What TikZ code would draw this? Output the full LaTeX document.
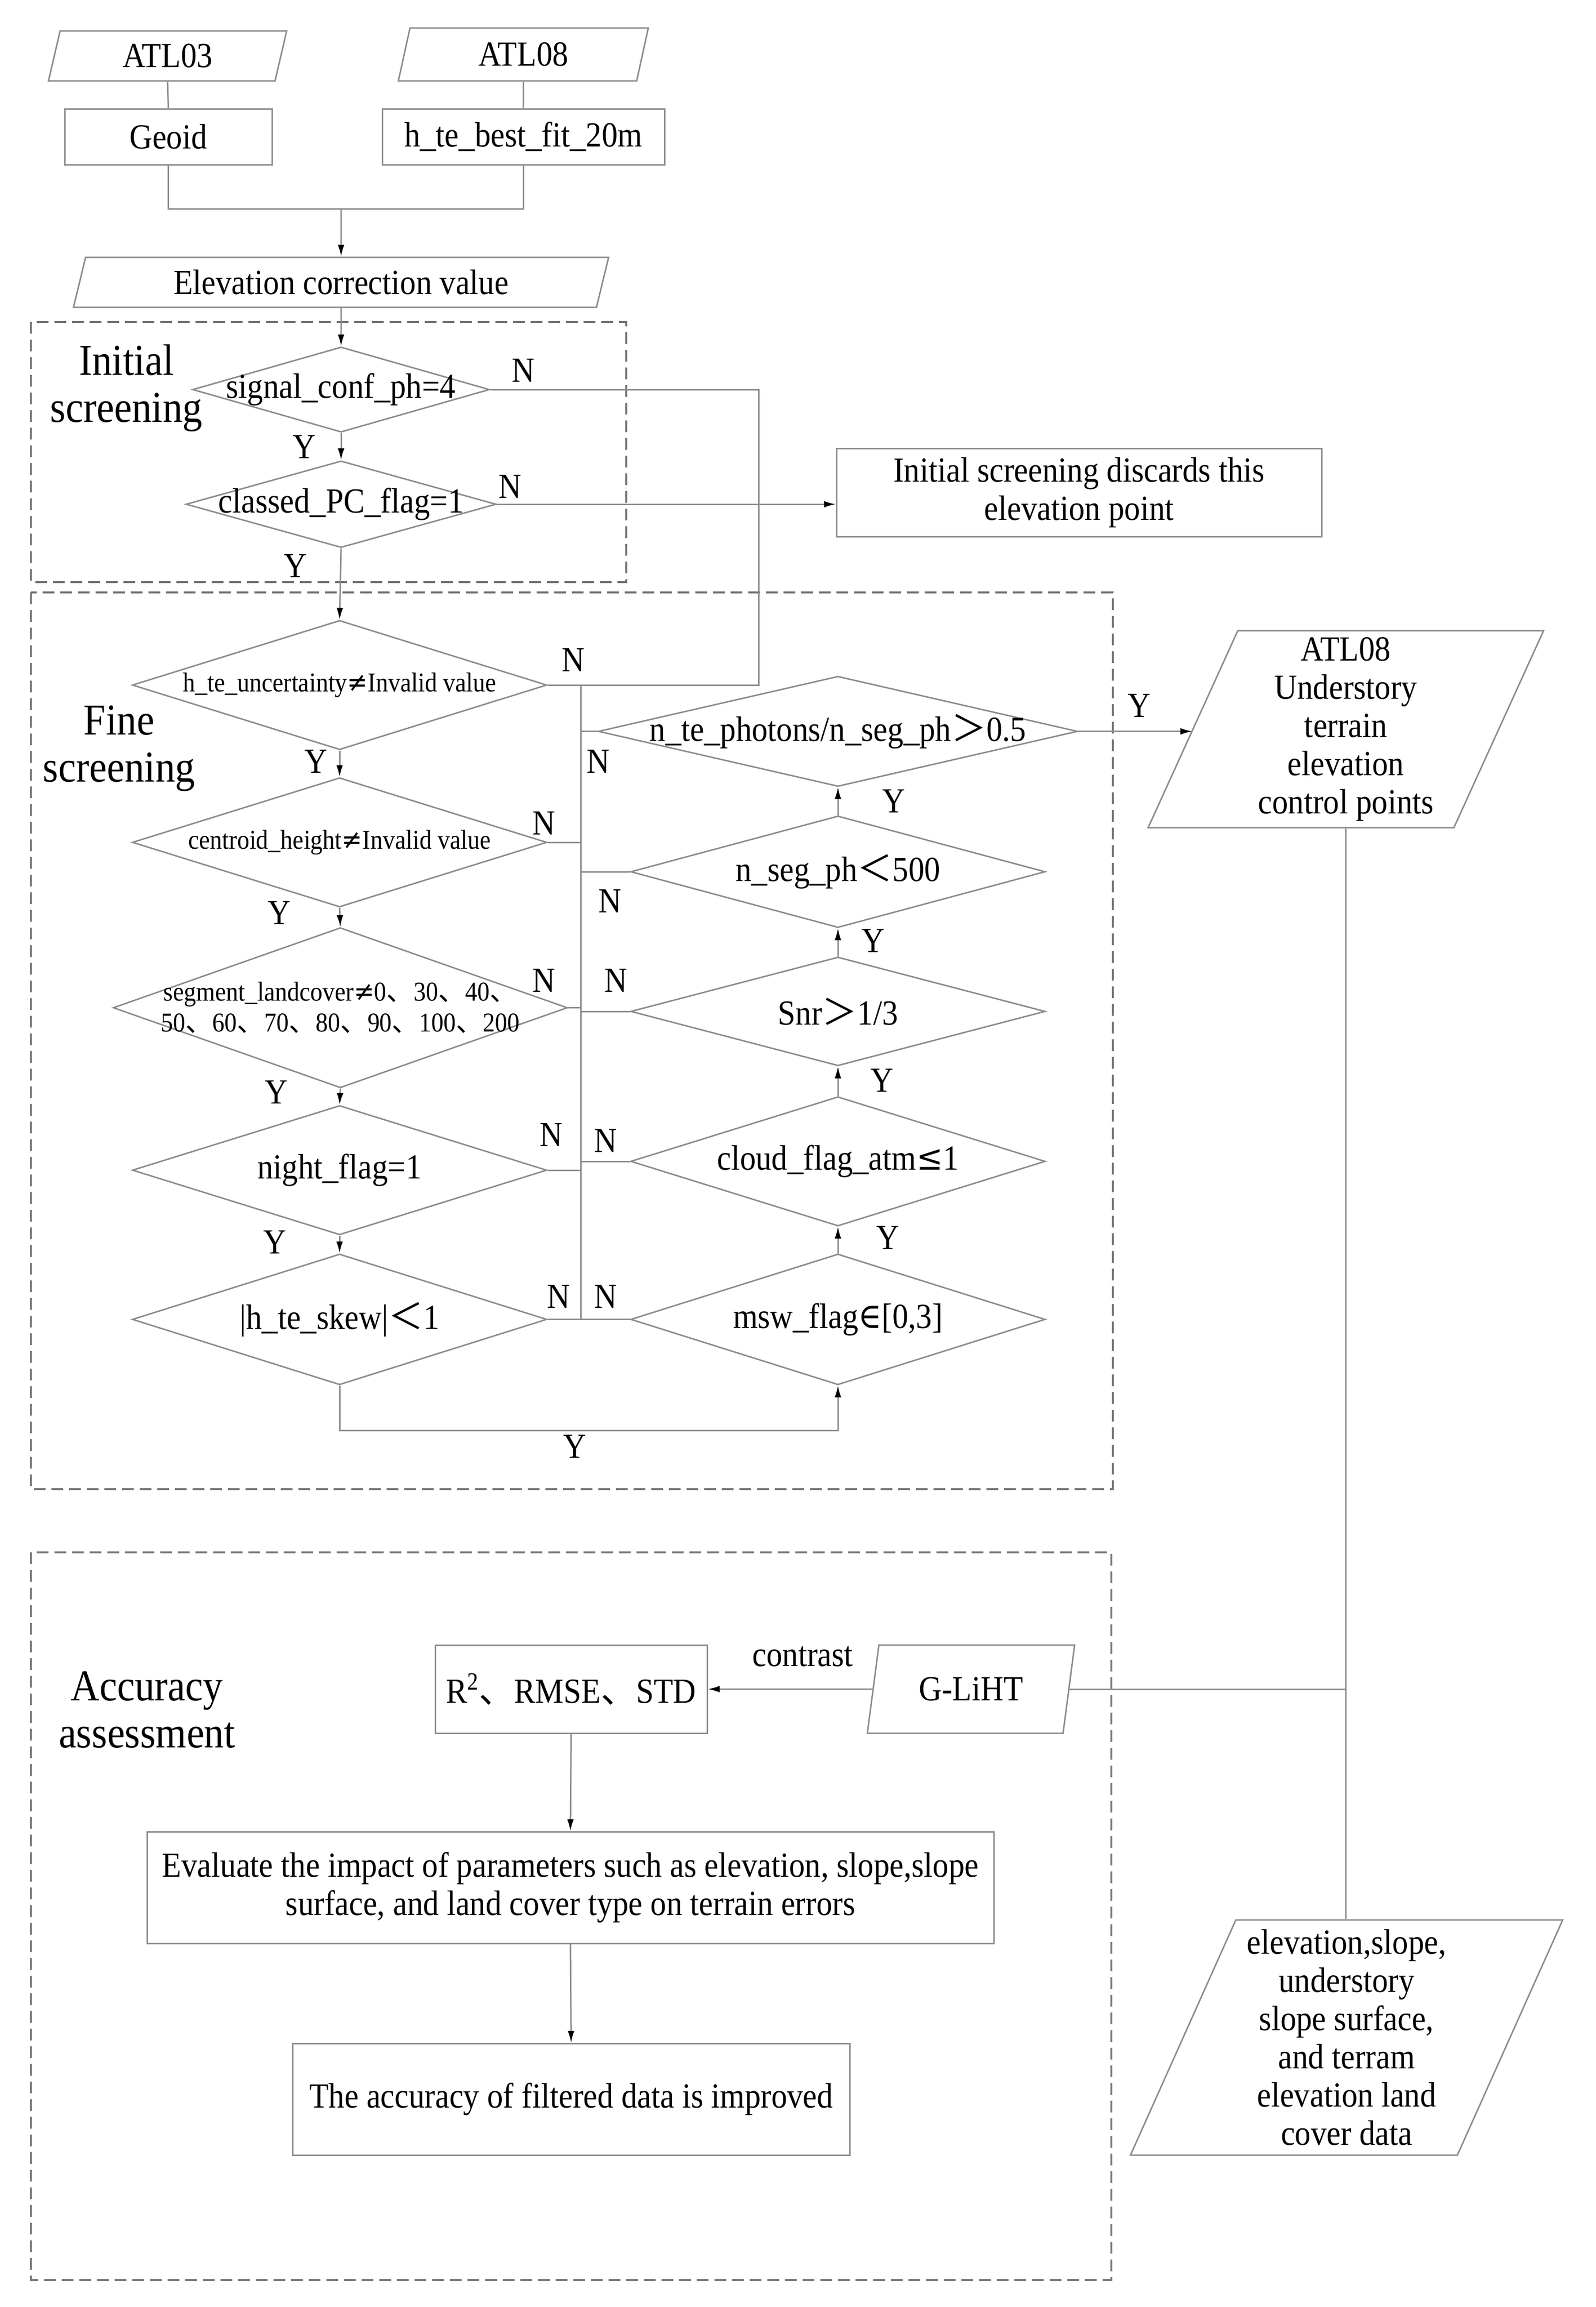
\documentclass[tikz,border=0pt]{standalone}
\usepackage{fontspec}
\setmainfont{Liberation Serif}[FakeStretch=0.9]
\newfontfamily\cjk{Noto Sans CJK SC}
\newfontfamily\symf{DejaVu Serif}[FakeStretch=0.9]
\usetikzlibrary{shapes.geometric,arrows.meta}
\definecolor{lgray}{RGB}{140,140,140}
\definecolor{dgray}{RGB}{115,115,115}
\newcommand\mainsize{\fontsize{24}{26}\selectfont}
\newcommand\smallsize{\fontsize{18.5}{21}\selectfont}
\newcommand\bigsize{\fontsize{30}{32}\selectfont}
\newcommand\dun{{\cjk 、}}
\tikzset{
  conn/.style={draw=lgray, line width=1pt},
  arr/.style={conn, -{Latex[length=8pt,width=4.5pt,color=black]}},
  zone/.style={draw=dgray, line width=1.2pt, dash pattern=on 8pt off 4pt},
  proc/.style 2 args={rectangle, draw=lgray, line width=1pt, inner sep=0pt, minimum width=#1, minimum height=#2, align=center},
  cond/.style 2 args={diamond, draw=lgray, line width=1pt, inner sep=0pt, minimum width=#1, minimum height=#2},
  inout/.style 2 args={trapezium, trapezium left angle=64, trapezium right angle=116, trapezium stretches body, draw=lgray, line width=1pt, inner sep=0pt, minimum width=#1, minimum height=#2, align=center},
  lab/.style={inner sep=0pt, align=center}
}

\begin{document}
\begin{tikzpicture}[x=1pt, y=-1pt, font=\mainsize]
		%%%%% START %%%%%
		\useasboundingbox (0,0) rectangle (1085.67,1569.33);
		
		% inputs
		\node[inout={162}{34}] (atlA) at (114,38) {ATL03};
		\node[inout={170}{36}] (atlB) at (356,37) {ATL08};
		\node[proc={141}{38}] (geoid) at (114.5,93) {Geoid};
		\node[proc={192}{38}] (hbest) at (356,93) {h\_te\_best\_fit\_20m};
		\coordinate (mrg) at (232,142);
		\node[inout={364}{34}] (elev) at (232,192) {Elevation correction value};
		
		\draw[conn] (atlA.south) -- (geoid.north);
		\draw[conn] (atlB.south) -- (hbest.north);
		\draw[conn] (geoid.south) |- (mrg) -| (hbest.south);
		\draw[arr] (mrg) -- (elev.north);
		
		% initial screening
		\draw[zone] (21,219) rectangle (426,396);
		\node[lab, font=\bigsize] (tinit) at (86,264) {Initial\\screening};
		\node[cond={202}{58}] (sig) at (232,265) {};
		\node[lab] (sigt) at (sig) {signal\_conf\_ph=4};
		\node[cond={211}{59}] (cls) at (232,343) {};
		\node[lab] (clst) at (cls) {classed\_PC\_flag=1};
		\node[proc={330}{60}] (drop) at (734,335) {Initial screening discards this\\elevation point};
		
		\draw[arr] (elev.south) -- (sig.north);
		\draw[arr] (sig.south) -- (cls.north);
		\draw[arr] (cls.east) -- (cls.east -| drop.west);
		
		% fine screening
		\draw[zone] (21,403) rectangle (757,1013);
		\node[lab, font=\bigsize] (tfine) at (81,509) {Fine\\screening};
		
		\node[cond={282}{88}] (hunc) at (231,466) {};
		\node[lab, font=\smallsize] (hunct) at (hunc) {h\_te\_uncertainty{\symf ≠}Invalid value};
		\node[cond={282}{88}] (cent) at (231,573) {};
		\node[lab, font=\smallsize] (centt) at (cent) {centroid\_height{\symf ≠}Invalid value};
		\node[cond={309}{109}] (seg) at (231.5,685.5) {};
		\node[lab, font=\smallsize] (segt) at (seg) {segment\_landcover{\symf ≠}0\dun 30\dun 40\dun\\50\dun 60\dun 70\dun 80\dun 90\dun 100\dun 200};
		\node[cond={282}{88}] (night) at (231,796) {};
		\node[lab] (nightt) at (night) {night\_flag=1};
		\node[cond={282}{89}] (skew) at (231,897.5) {};
		\node[lab] (skewt) at (skew) {|h\_te\_skew|{\cjk ＜}1};
		
		\node[cond={326}{75}] (ntep) at (570,497.5) {};
		\node[lab] (ntept) at (ntep) {n\_te\_photons/n\_seg\_ph{\cjk ＞}0.5};
		\node[cond={282}{76}] (nseg) at (570,593) {};
		\node[lab] (nsegt) at (nseg) {n\_seg\_ph{\cjk ＜}500};
		\node[cond={282}{74}] (snr) at (570,688) {};
		\node[lab] (snrt) at (snr) {Snr{\cjk ＞}1/3};
		\node[cond={282}{88}] (cloud) at (570,790) {};
		\node[lab] (cloudt) at (cloud) {cloud\_flag\_atm{\symf ≤}1};
		\node[cond={282}{89}] (msw) at (570,897.5) {};
		\node[lab] (mswt) at (msw) {msw\_flag{\symf ∈}[0,3]};
		
		\draw[arr] (cls.south) -- (hunc.north);
		\draw[arr] (hunc.south) -- (cent.north);
		\draw[arr] (cent.south) -- (seg.north);
		\draw[arr] (seg.south) -- (night.north);
		\draw[arr] (night.south) -- (skew.north);
		\coordinate (ybot) at (400,973);
		\draw[arr] (skew.south) |- (ybot) -| (msw.south);
		\draw[arr] (msw.north) -- (cloud.south);
		\draw[arr] (cloud.north) -- (snr.south);
		\draw[arr] (snr.north) -- (nseg.south);
		\draw[arr] (nseg.north) -- (ntep.south);
		
		% N branches
		\coordinate (rtop) at (516,466);
		\coordinate (ttop) at (395,466);
		\draw[conn] (sig.east) -| (rtop) -- (hunc.east);
		\draw[conn] (ttop) -- (ttop |- skew.east);
		\draw[conn] (cent.east) -- (cent.east -| ttop);
		\draw[conn] (seg.east) -- (seg.east -| ttop);
		\draw[conn] (night.east) -- (night.east -| ttop);
		\draw[conn] (skew.east) -- (msw.west);
		\draw[conn] (ttop |- ntep.west) -- (ntep.west);
		\draw[conn] (ttop |- nseg.west) -- (nseg.west);
		\draw[conn] (ttop |- snr.west) -- (snr.west);
		\draw[conn] (ttop |- cloud.west) -- (cloud.west);
		
		% output points
		\node[inout={269}{134}] (ctrl) at (915.5,496) {ATL08\\Understory\\terrain\\elevation\\control points};
		\draw[arr] (ntep.east) -- (ntep.east -| ctrl.west);
		
		% accuracy assessment
		\draw[zone] (21,1056) rectangle (756,1551);
		\node[lab, font=\bigsize] (tacc) at (100,1163) {Accuracy\\assessment};
		\node[proc={185}{60}] (stats) at (388.5,1149) {R\textsuperscript{2}\dun RMSE\dun STD};
		\node[inout={141}{60}] (gliht) at (660.5,1149) {G-LiHT};
		\node[proc={576}{76}] (eval) at (388,1284) {Evaluate the impact of parameters such as elevation, slope,slope\\surface, and land cover type on terrain errors};
		\node[proc={379}{76}] (impr) at (388.5,1428) {The accuracy of filtered data is improved};
		\node[inout={294}{160}] (land) at (916,1386) {elevation,slope,\\understory\\slope surface,\\and terram\\elevation land\\cover data};
		\node[lab] (tcon) at (546,1127) {contrast};
		
		\draw[arr] (gliht.west) -- (stats.east);
		\draw[arr] (stats.south) -- (eval.north);
		\draw[arr] (eval.south) -- (impr.north);
		\draw[conn] (ctrl.south) -- (ctrl.south |- land.north);
		\draw[conn] (gliht.east) -- (gliht.east -| ctrl.south);
		
		% branch labels
		\foreach \nm/\x/\y in {nA/356/252, nB/347/331, nC/390/449, nD/407/518, nE/370/560, nF/415/613, nG/370/667, nH/419/667, nI/375/772, nJ/412/776, nK/380/882, nL/412/882}
			\node[lab] (\nm) at (\x,\y) {N};
		\foreach \nm/\x/\y in {yA/207/304, yB/201/385, yC/215/518, yD/190/621, yE/188/743, yF/187/845, yG/608/545, yH/594/640, yI/600/735, yJ/604/842, yK/391/984, yL/775/480}
			\node[lab] (\nm) at (\x,\y) {Y};
		
		%%%%% END %%%%%
	\end{tikzpicture}
\end{document}
